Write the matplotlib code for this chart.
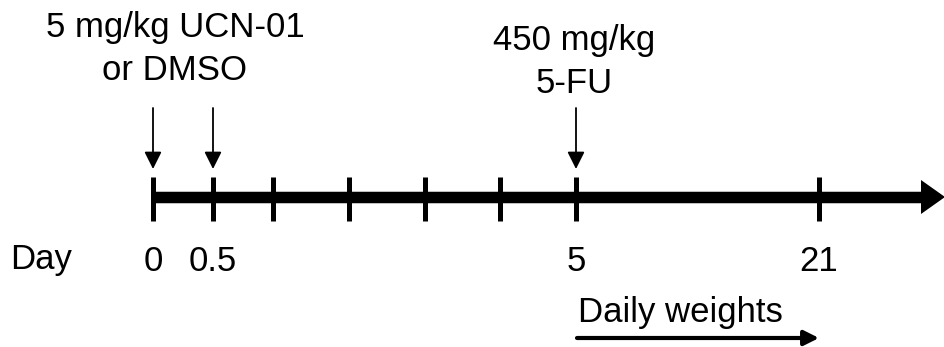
import matplotlib.pyplot as plt
from matplotlib.patches import Polygon

plt.rcParams['font.family'] = ['Liberation Sans', 'DejaVu Sans']

# timeline ticks (schematic positions) and day labels
tick_pos = [153, 213, 273, 349, 425, 500, 576, 819]
day_labels = ['0', '0.5', '', '', '', '', '5', '21']

# treatments: where the dose arrows point, and label text
dose_pos = [153, 213, 576]
dose_text = [(175, ['5 mg/kg UCN-01', 'or DMSO']),
             (574, ['450 mg/kg', '5-FU'])]

weights_start = 577
weights_end = 819

fs = 25

fig = plt.figure(figsize=(9.45, 3.47), dpi=100)
ax = fig.add_axes([0, 0, 1, 1])
ax.set_xlim(0, 945)
ax.set_ylim(347, 0)
ax.axis('off')

y_line = 197
px = 72 / 100  # points per pixel

# main time axis
ax.plot([tick_pos[0], 924], [y_line, y_line], color='black', lw=11.5 * px,
        solid_capstyle='butt')
ax.add_patch(Polygon([[921, 180], [945, y_line], [921, 214]], closed=True,
                     facecolor='black', edgecolor='none'))

# ticks
for x in tick_pos:
    ax.plot([x, x], [177, 221], color='black', lw=5 * px, solid_capstyle='butt')

# day labels
ax.text(10, 269, 'Day', fontsize=fs, ha='left', va='baseline')
for x, lab in zip(tick_pos, day_labels):
    if lab:
        ax.text(x, 271, lab, fontsize=fs, ha='center', va='baseline')

# dose arrows
for x in dose_pos:
    ax.annotate('', xy=(x, 169), xytext=(x, 108),
                arrowprops=dict(arrowstyle='-|>', color='black', lw=1.3,
                                mutation_scale=26, shrinkA=0, shrinkB=0))

# dose labels
for x, lines in dose_text:
    base = 37 if x < 300 else 50
    for i, s in enumerate(lines):
        ax.text(x, base + 43 * i, s, fontsize=fs, ha='center', va='baseline')

# daily weights
ax.text(weights_start + 1, 322, 'Daily weights', fontsize=fs, ha='left',
        va='baseline')
ax.annotate('', xy=(weights_end, 338), xytext=(weights_start, 338),
            arrowprops=dict(arrowstyle='-|>', color='black', lw=3,
                            mutation_scale=22, shrinkA=0, shrinkB=0))

fig.savefig('out.png', dpi=100)
